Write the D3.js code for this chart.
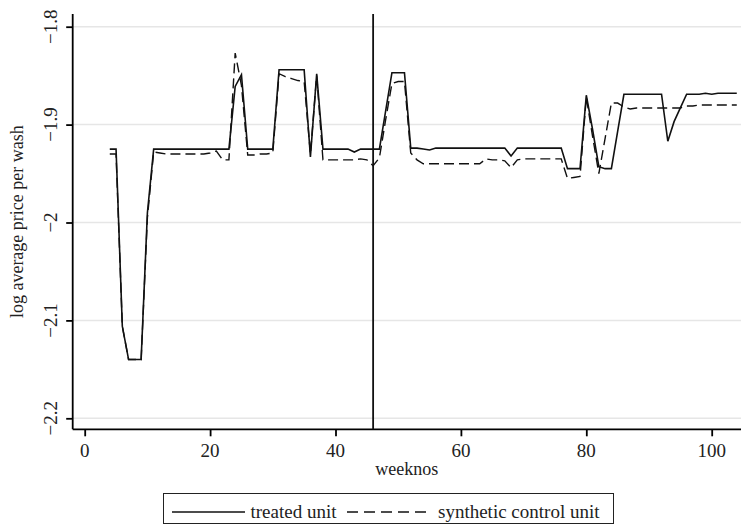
<!DOCTYPE html>
<html>
<head>
<meta charset="utf-8">
<script src="https://cdn.jsdelivr.net/npm/d3@7"></script>
<style>
  body { margin: 0; background: #fff; }
  svg { display: block; font-family: "Liberation Serif", "Times New Roman", serif; }
</style>
</head>
<body>
<script>
// weeks 4..104
const weeks = d3.range(4, 105);

const treated = [
  -1.925, -1.925, -2.106, -2.140, -2.140, -2.140, -1.990, -1.925, -1.925, -1.925,
  -1.925, -1.925, -1.925, -1.925, -1.925, -1.925, -1.925, -1.925, -1.925, -1.925,
  -1.861, -1.849, -1.925, -1.925, -1.925, -1.925, -1.925, -1.844, -1.844, -1.844,
  -1.844, -1.844, -1.933, -1.848, -1.925, -1.925, -1.925, -1.925, -1.925, -1.928,
  -1.925, -1.925, -1.925, -1.925, -1.886, -1.847, -1.847, -1.847, -1.924, -1.924,
  -1.925, -1.926, -1.924, -1.924, -1.924, -1.924, -1.924, -1.924, -1.924, -1.924,
  -1.924, -1.924, -1.924, -1.924, -1.932, -1.924, -1.924, -1.924, -1.924, -1.924,
  -1.924, -1.924, -1.924, -1.945, -1.945, -1.945, -1.870, -1.905, -1.943, -1.945,
  -1.945, -1.907, -1.869, -1.869, -1.869, -1.869, -1.869, -1.869, -1.869, -1.917,
  -1.897, -1.883, -1.869, -1.869, -1.869, -1.868, -1.869, -1.868, -1.868, -1.868,
  -1.868
];

const synthetic = [
  -1.930, -1.930, -2.106, -2.140, -2.140, -2.140, -1.995, -1.928, -1.929, -1.930,
  -1.930, -1.930, -1.930, -1.930, -1.930, -1.930, -1.929, -1.927, -1.936, -1.936,
  -1.827, -1.860, -1.931, -1.931, -1.930, -1.930, -1.929, -1.848, -1.851, -1.853,
  -1.855, -1.856, -1.930, -1.850, -1.936, -1.936, -1.936, -1.936, -1.936, -1.936,
  -1.935, -1.936, -1.942, -1.934, -1.895, -1.858, -1.856, -1.856, -1.929, -1.936,
  -1.940, -1.940, -1.940, -1.940, -1.940, -1.940, -1.940, -1.940, -1.940, -1.940,
  -1.935, -1.936, -1.936, -1.937, -1.944, -1.936, -1.935, -1.935, -1.935, -1.935,
  -1.935, -1.935, -1.935, -1.955, -1.954, -1.953, -1.872, -1.912, -1.950, -1.914,
  -1.878, -1.878, -1.882, -1.884, -1.883, -1.883, -1.883, -1.883, -1.883, -1.883,
  -1.883, -1.883, -1.881, -1.881, -1.880, -1.880, -1.880, -1.880, -1.880, -1.880,
  -1.880
];

const xTicks = [0, 20, 40, 60, 80, 100];
const yTicks = [-1.8, -1.9, -2, -2.1, -2.2];
const treatWeek = 46;
const legendLabels = ['treated unit', 'synthetic control unit'];

const W = 741, H = 525;
const plot = { left: 72.7, right: 741, top: 14, bottom: 429.3 };

const svg = d3.select('body').append('svg').attr('width', W).attr('height', H);

// scales: 0 -> 84.7, 100 -> 711.7 ; -1.8 -> 26.7, -2.2 -> 418.3
const x = d3.scaleLinear().domain([0, 100]).range([84.7, 711.7]);
const y = d3.scaleLinear().domain([-1.8, -2.2]).range([26.7, 418.3]);

const fmt = v => d3.format('')(v).replace('-', '\u2212');

// gridlines
svg.append('g')
  .selectAll('line')
  .data(yTicks)
  .join('line')
  .attr('x1', plot.left).attr('x2', plot.right)
  .attr('y1', d => y(d)).attr('y2', d => y(d))
  .attr('stroke', '#e6e6e6')
  .attr('stroke-width', 1.5);

// y axis
const yAxis = svg.append('g')
  .attr('transform', `translate(${plot.left},0)`)
  .call(d3.axisLeft(y).tickValues(yTicks).tickSize(6.5).tickFormat(''));
yAxis.select('.domain').attr('d', `M0,${plot.top}V${plot.bottom}`).attr('stroke-width', 1.8);
yAxis.selectAll('.tick line').attr('stroke-width', 1.8);

svg.append('g')
  .selectAll('text')
  .data(yTicks)
  .join('text')
  .attr('transform', d => `translate(56.5,${y(d)}) rotate(-90)`)
  .attr('text-anchor', 'middle')
  .attr('font-size', 19)
  .attr('fill', '#222')
  .text(fmt);

// x axis
const xAxis = svg.append('g')
  .attr('transform', `translate(0,${plot.bottom})`)
  .call(d3.axisBottom(x).tickValues(xTicks).tickSize(7).tickFormat(''));
xAxis.select('.domain').attr('d', `M${plot.left},0H${plot.right}`).attr('stroke-width', 1.8);
xAxis.selectAll('.tick line').attr('stroke-width', 1.8);

svg.append('g')
  .selectAll('text')
  .data(xTicks)
  .join('text')
  .attr('x', d => x(d))
  .attr('y', 456.5)
  .attr('text-anchor', 'middle')
  .attr('font-size', 19)
  .attr('fill', '#222')
  .text(d => d);

// axis titles
svg.append('text')
  .attr('x', (plot.left + plot.right) / 2)
  .attr('y', 475)
  .attr('text-anchor', 'middle')
  .attr('font-size', 18)
  .attr('fill', '#222')
  .text('weeknos');

svg.append('text')
  .attr('transform', `translate(23,${(plot.top + plot.bottom) / 2}) rotate(-90)`)
  .attr('text-anchor', 'middle')
  .attr('font-size', 18)
  .attr('fill', '#222')
  .text('log average price per wash');

// treatment line
svg.append('line')
  .attr('x1', x(treatWeek)).attr('x2', x(treatWeek))
  .attr('y1', plot.top).attr('y2', plot.bottom)
  .attr('stroke', '#111')
  .attr('stroke-width', 1.8);

const line = d3.line()
  .x(d => x(d[0]))
  .y(d => y(d[1]));

svg.append('path')
  .datum(weeks.map((w, i) => [w, synthetic[i]]))
  .attr('d', line)
  .attr('fill', 'none')
  .attr('stroke', '#111')
  .attr('stroke-width', 1.4)
  .attr('stroke-dasharray', '10,5');

svg.append('path')
  .datum(weeks.map((w, i) => [w, treated[i]]))
  .attr('d', line)
  .attr('fill', 'none')
  .attr('stroke', '#111')
  .attr('stroke-width', 1.6);

// legend
const lg = svg.append('g');
lg.append('rect')
  .attr('x', 163.5).attr('y', 493.5)
  .attr('width', 450).attr('height', 30)
  .attr('fill', '#fff')
  .attr('stroke', '#222')
  .attr('stroke-width', 1);

lg.append('line')
  .attr('x1', 172).attr('x2', 245).attr('y1', 512).attr('y2', 512)
  .attr('stroke', '#111').attr('stroke-width', 1.6);
lg.append('text')
  .attr('x', 250.5).attr('y', 518)
  .attr('font-size', 19).attr('fill', '#222')
  .text(legendLabels[0]);

lg.append('line')
  .attr('x1', 347).attr('x2', 432).attr('y1', 512).attr('y2', 512)
  .attr('stroke', '#111').attr('stroke-width', 1.4)
  .attr('stroke-dasharray', '11,6');
lg.append('text')
  .attr('x', 438).attr('y', 518)
  .attr('font-size', 19).attr('fill', '#222')
  .text(legendLabels[1]);
</script>
</body>
</html>
